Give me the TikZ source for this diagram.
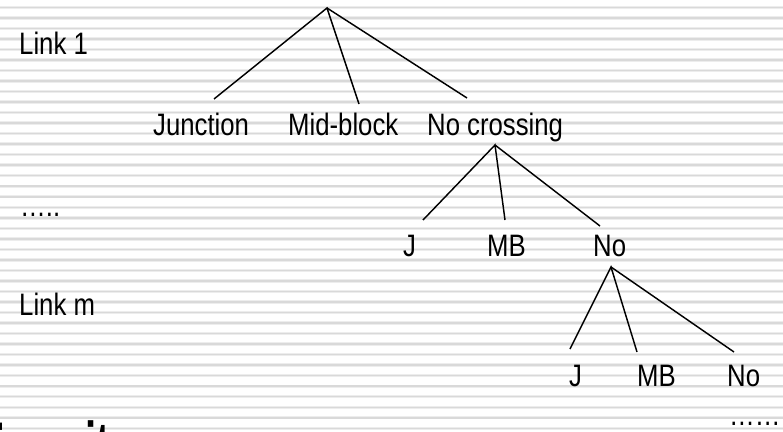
\documentclass[tikz,border=0pt]{standalone}
\usepackage{fontspec}
\setmainfont[FakeStretch=0.83]{Liberation Sans}
\begin{document}
\begin{tikzpicture}[x=1pt,y=-1pt,
  lbl/.style={anchor=base west, inner sep=0pt, font=\fontsize{31}{36}\selectfont},
  title/.style={anchor=base west, inner sep=0pt, font=\fontsize{66}{72}\selectfont\bfseries},
  branch/.style={line width=1.45pt, line join=miter},
  rulehalo/.style={line width=3.4pt, black!7},
  rulecore/.style={line width=1.5pt, black!15}]
\useasboundingbox (0,0) rectangle (783,431);
\clip (0,0) rectangle (783,431);
\fill[white] (0,0) rectangle (783,431);
% ruled background
\foreach \k in {0,...,40}{
  \draw[rulehalo] (0,{7.3+10.525*\k}) -- (783,{7.3+10.525*\k});
  \draw[rulecore] (0,{7.3+10.525*\k}) -- (783,{7.3+10.525*\k});
}
% side labels
\node[lbl] (link1) at (19,54) {Link 1};
\node[lbl] (dotsmid) at (20,216) {…..};
\node[lbl] (linkm) at (19,315) {Link m};
% level 1
\node[lbl] (junc) at (153,135) {Junction};
\node[lbl] (mid) at (288,135) {Mid-block};
\node[lbl] (nocross) at (427,135) {No crossing};
% level 2
\node[lbl] (jB) at (403,256) {J};
\node[lbl] (mbB) at (487,256) {MB};
\node[lbl] (noB) at (593,256) {No};
% level 3
\node[lbl] (jC) at (569,386) {J};
\node[lbl] (mbC) at (637,386) {MB};
\node[lbl] (noC) at (727,386) {No};
\node[lbl] (dotsend) at (729,425) {……};
% heading, mostly below the frame
\node[title] (head) at (-21.6,468) {\scalebox{0.73}[1]{Transit}};
% branch points
\coordinate (rootA) at (327,8);
\coordinate (tJunc) at (214,99);
\coordinate (tMid) at (359,104);
\coordinate (tNo) at (467,98);
\coordinate (rootB) at (495,145);
\coordinate (tJB) at (423,220);
\coordinate (tMBB) at (505,220);
\coordinate (tNoB) at (600,226);
\coordinate (rootC) at (611,267);
\coordinate (tJC) at (570,349);
\coordinate (tMBC) at (637,352);
\coordinate (tNoC) at (734,352);
% branches
\draw[branch] (tJunc) -- (rootA) -- (tMid);
\draw[branch] (rootA) -- (tNo);
\draw[branch] (tJB) -- (rootB) -- (tMBB);
\draw[branch] (rootB) -- (tNoB);
\draw[branch] (tJC) -- (rootC) -- (tMBC);
\draw[branch] (rootC) -- (tNoC);
\end{tikzpicture}
\end{document}
